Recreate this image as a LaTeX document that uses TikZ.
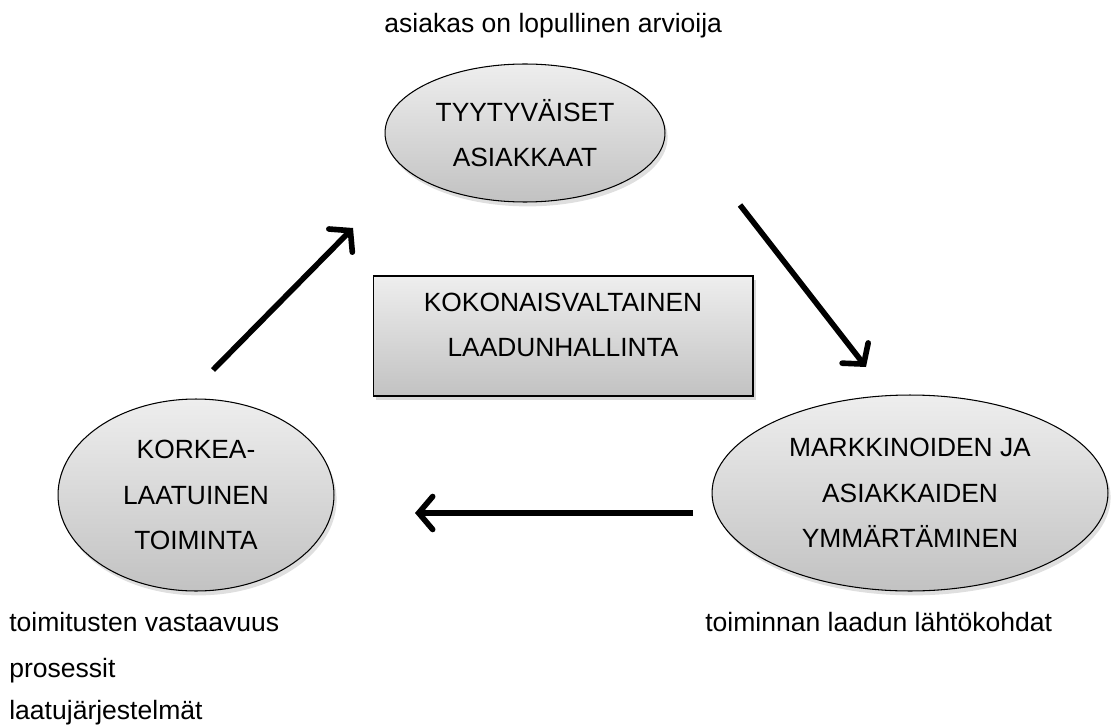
\documentclass[tikz,border=0pt]{standalone}
\usepackage{fontspec}
\setmainfont{Liberation Sans}
\usetikzlibrary{arrows.meta, shadows, shapes.geometric}
\definecolor{shadetop}{RGB}{238,238,238}
\definecolor{shadebot}{RGB}{194,194,194}
\begin{document}
\begin{tikzpicture}[
  x=0.02cm, y=-0.02cm,
  every node/.style={font=\fontsize{15}{26}\selectfont},
  lbl/.style={font=\fontsize{15.1}{19}\selectfont, inner sep=0pt, anchor=base west},
  oval/.style={ellipse, draw=black, semithick, top color=shadetop, bottom color=shadebot,
               align=center, inner sep=0pt,
               drop shadow={opacity=0.25, shadow xshift=1.5pt, shadow yshift=-2.5pt}},
  kehys/.style={rectangle, draw=black, semithick, top color=shadetop, bottom color=shadebot,
               align=center, minimum width=7.6cm, minimum height=2.4cm, text depth=0.45cm,
               drop shadow={opacity=0.3, shadow xshift=1.5pt, shadow yshift=-2.5pt}},
  nuoli/.style={-{Straight Barb[length=2.8mm, width=6.6mm, line cap=round]}, line width=3.2pt}
]
\useasboundingbox (0,0) rectangle (1118,726);
% kehan solmut
\node[oval, minimum width=5.6cm, minimum height=2.76cm] (asiakkaat) at (525,133)
  {TYYTYVÄISET\\ASIAKKAAT};
\node[oval, minimum width=7.92cm, minimum height=3.92cm] (markkinat) at (910,493)
  {MARKKINOIDEN JA\\ASIAKKAIDEN\\YMMÄRTÄMINEN};
\node[oval, minimum width=5.52cm, minimum height=3.84cm] (toiminta) at (196,495)
  {KORKEA-\\LAATUINEN\\TOIMINTA};
\node[kehys] (tqm) at (563,336) {KOKONAISVALTAINEN\\LAADUNHALLINTA};
% tekstit
\node[lbl] (arvioija) at (384,33) {asiakas on lopullinen arvioija};
\node[lbl] (vastaavuus) at (9,631) {toimitusten vastaavuus};
\node[lbl] (prosessit) at (9,677) {prosessit};
\node[lbl] (jarjestelmat) at (9,719) {laatujärjestelmät};
\node[lbl] (lahtokohdat) at (705,631) {toiminnan laadun lähtökohdat};
% nuolet
\coordinate (n1a) at (740,205);
\coordinate (n1b) at (866,367);
\coordinate (n2a) at (693,513);
\coordinate (n2b) at (415,513);
\coordinate (n3a) at (213,370);
\coordinate (n3b) at (353,228);
\draw[nuoli] (n1a) -- (n1b);
\draw[nuoli] (n2a) -- (n2b);
\draw[nuoli] (n3a) -- (n3b);
\end{tikzpicture}
\end{document}
